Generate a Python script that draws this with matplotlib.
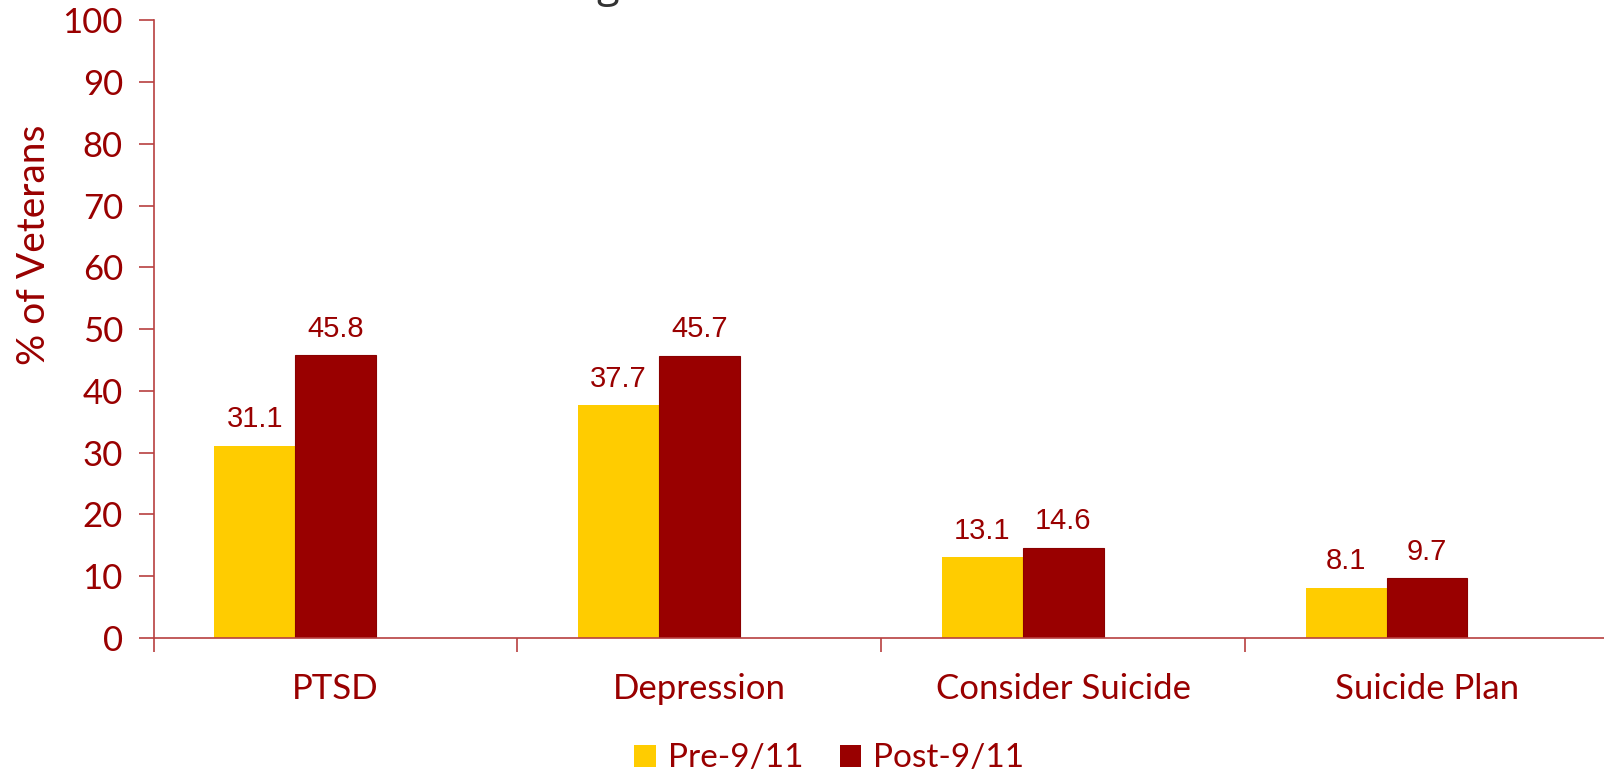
import matplotlib
matplotlib.use("Agg")
import matplotlib.pyplot as plt
from matplotlib.patches import Patch

categories = ["PTSD", "Depression", "Consider Suicide", "Suicide Plan"]
pre_911 = [31.1, 37.7, 13.1, 8.1]
post_911 = [45.8, 45.7, 14.6, 9.7]
series_names = ["Pre-9/11", "Post-9/11"]
y_ticks = [0, 10, 20, 30, 40, 50, 60, 70, 80, 90, 100]

YELLOW = "#FFCC00"
DARK_RED = "#990000"
AXIS_RED = "#B84040"
UI_FONT = ["Lato", "DejaVu Sans"]
NUM_FONT = ["Liberation Sans", "DejaVu Sans"]

fig = plt.figure(figsize=(16.04, 7.71), dpi=100)
ax = fig.add_axes([0.0957, 0.1725, 0.9074, 0.801])

width = 0.222
x = list(range(len(categories)))
pre_bars = ax.bar([i - width for i in x], pre_911, width, align="center",
                  color=YELLOW, zorder=2)
post_bars = ax.bar(x, post_911, width, align="center",
                   color=DARK_RED, edgecolor="#8a0000", linewidth=0.8, zorder=2)

for bars, vals in ((pre_bars, pre_911), (post_bars, post_911)):
    for b, v in zip(bars, vals):
        ax.annotate(f"{v:.1f}", (b.get_x() + b.get_width() / 2, v),
                    xytext=(0, 9), textcoords="offset points",
                    ha="center", va="bottom", fontsize=21,
                    family=NUM_FONT, color=DARK_RED)

ax.set_xlim(-0.5, len(categories) - 0.5)
ax.set_ylim(0, 100)

# y axis
ax.set_yticks(y_ticks)
ax.set_yticklabels([str(t) for t in y_ticks], family=UI_FONT, fontsize=25,
                   color=DARK_RED)
ax.tick_params(axis="y", direction="out", length=11, width=1.2,
               color=AXIS_RED, pad=11)
ax.set_ylabel("% of Veterans", family=UI_FONT, fontsize=28, color=DARK_RED)
ax.yaxis.set_label_coords(-0.070, 0.636)

# x axis: labels centred, ticks between categories
ax.set_xticks(x)
ax.set_xticklabels(categories, family=UI_FONT, fontsize=25, color=DARK_RED)
ax.tick_params(axis="x", which="major", length=0, pad=25)
ax.set_xticks([i - 0.5 for i in range(len(categories) + 1)], minor=True)
ax.tick_params(axis="x", which="minor", direction="out", length=10,
               width=1.2, color=AXIS_RED)

for side in ("top", "right"):
    ax.spines[side].set_visible(False)
for side in ("left", "bottom"):
    ax.spines[side].set_color(AXIS_RED)
    ax.spines[side].set_linewidth(1.2)

# title fragment at the very top
fig.text(0.379, 1.0 + 3 / 771, "g", family=["Open Sans", "DejaVu Sans"],
         fontsize=30, color="#333333", ha="center", va="baseline")

handles = [Patch(facecolor=YELLOW, label=series_names[0]),
           Patch(facecolor=DARK_RED, label=series_names[1])]
fig.legend(handles=handles, loc="lower center", bbox_to_anchor=(0.517, -0.042),
           ncol=2, frameon=False, handlelength=0.65, handleheight=0.65,
           handletextpad=0.35, columnspacing=1.1,
           prop={"family": UI_FONT, "size": 24}, labelcolor=DARK_RED)

fig.savefig("out.png", dpi=100)
